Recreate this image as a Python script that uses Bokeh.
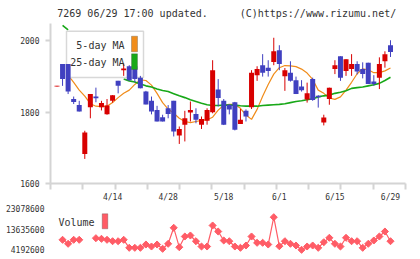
import math
from bokeh.plotting import figure
from bokeh.models import Range1d, FixedTicker, Label, BoxAnnotation, ColumnDataSource
from bokeh.core.properties import value
from bokeh.layouts import column
from bokeh.embed import file_html
from bokeh.resources import INLINE

# ---------------- data ----------------
opens = [1872, 1935, 1935, 1837, 1820, 1683, 1814, 1844, 1814, 1794, 1832, 1888, 1918, 1929, 1929,
         1897, 1858, 1832, 1806, 1786, 1811, 1832, 1735, 1765, 1799, 1795, 1765, 1776, 1800, 1864,
         1832, 1821, 1828, 1767, 1804, 1814, 1904, 1932, 1925, 1941, 1974, 1901, 1911, 1890, 1872,
         1836, 1893, 1846, 1771, 1837, 1921, 1957, 1916, 1921, 1935, 1921, 1939, 1886, 1897, 1943,
         1988]
closes = [1874, 1893, 1858, 1829, 1802, 1743, 1851, 1839, 1826, 1819, 1848, 1874, 1923, 1890, 1893,
          1867, 1822, 1802, 1774, 1774, 1795, 1746, 1753, 1783, 1806, 1779, 1781, 1806, 1918, 1840,
          1765, 1808, 1751, 1779, 1788, 1911, 1921, 1911, 1916, 1971, 1935, 1918, 1888, 1851, 1862,
          1853, 1834, 1842, 1785, 1869, 1932, 1897, 1949, 1935, 1914, 1907, 1879, 1879, 1935, 1963,
          1969]
highs = [1874, 1935, 1935, 1844, 1832, 1748, 1851, 1869, 1832, 1837, 1848, 1888, 1937, 1932, 1929,
         1902, 1860, 1844, 1818, 1793, 1820, 1832, 1760, 1804, 1830, 1811, 1788, 1811, 1946, 1893,
         1837, 1822, 1829, 1809, 1808, 1918, 1929, 1963, 1946, 2009, 1988, 1924, 1943, 1900, 1890,
         1883, 1897, 1848, 1793, 1869, 1946, 1957, 1949, 1963, 1943, 1940, 1939, 1904, 1954, 1971,
         2002]
lows = [1872, 1874, 1851, 1823, 1802, 1669, 1783, 1828, 1805, 1793, 1827, 1853, 1902, 1888, 1884,
        1867, 1822, 1794, 1774, 1774, 1783, 1732, 1711, 1718, 1774, 1769, 1753, 1765, 1797, 1816,
        1764, 1794, 1749, 1767, 1774, 1809, 1888, 1900, 1900, 1932, 1918, 1860, 1886, 1851, 1858,
        1827, 1832, 1813, 1763, 1821, 1907, 1888, 1902, 1902, 1906, 1895, 1879, 1874, 1865, 1925,
        1955]
ma5 = [None, None, 1904, 1884, 1862, 1845, 1824, 1817, 1816, 1817, 1827, 1841, 1853, 1862, 1878,
       1891, 1889, 1876, 1853, 1827, 1809, 1797, 1783, 1774, 1771, 1774, 1777, 1779, 1786, 1806,
       1820, 1822, 1822, 1811, 1792, 1780, 1808, 1845, 1878, 1907, 1925, 1931, 1930, 1928, 1921,
       1910, 1892, 1862, 1853, 1840, 1836, 1843, 1862, 1884, 1908, 1922, 1919, 1911, 1911, 1916,
       1924]
ma25 = [None, 2044, 2031, None, None, None, None, None, None, None, None, None, 1893, 1888, 1885,
        1879, 1874, 1871, 1865, 1861, 1858, 1852, 1846, 1841, 1835, 1830, 1825, 1821, 1819, 1819,
        1820, 1820, 1820, 1818, 1817, 1817, 1817, 1819, 1820, 1821, 1822, 1824, 1827, 1830, 1832,
        1835, 1838, 1843, 1846, 1848, 1853, 1856, 1860, 1867, 1869, 1871, 1874, 1877, 1881, 1889,
        1898]
volume = [None, 8800000, 6960000, 8800000, 8800000, None, None, 9540000, 9260000, 8800000,
          8150000, 8150000, 8800000, 5110000, 5110000, 5110000, 6630000, 5710000, 6630000, 4650000,
          6960000, 14330000, 5390000, 10320000, 10780000, 8150000, 5710000, 5710000, 15390000,
          12620000, 8480000, 8150000, 5710000, 5110000, 6170000, 10320000, 7420000, 7420000,
          6630000, 19210000, 5850000, 8150000, 6960000, 6170000, 4192600, 5710000, 6170000,
          5110000, 7690000, 9720000, 6960000, 5710000, 9720000, 8150000, 8150000, 5110000,
          6960000, 8480000, 10320000, 12620000, 8150000]
date_pos = [10, 20, 30, 40, 50, 60]
date_labels = ["4/14", "4/28", "5/18", "6/1", "6/15", "6/29"]
price_ticks = [1600, 1800, 2000]
volume_ticks = [4192600, 13635600, 23078600]
header_left = "7269 06/29 17:00 updated."
header_right = "(C)https://www.rizumu.net/"

# ---------------- styles ----------------
RED = "#d80000"
BLUE = "#4040c0"
ORANGE = "#f08c1a"
GREEN = "#18a818"
VOLC = "#ff5c66"
AXC = "#d4d4d4"
TXT = "#333333"
MONO = "DejaVu Sans Mono"

n = len(opens)
xs = list(range(n))
colors = [RED if c >= o else BLUE for o, c in zip(opens, closes)]
src = ColumnDataSource(dict(
    x=xs, top=[max(o, c) for o, c in zip(opens, closes)],
    bottom=[min(o, c) for o, c in zip(opens, closes)],
    high=highs, low=lows, color=colors))

x0, x1 = -1.17, 62.7
y0, y1 = 1600, 2049
x_range = Range1d(x0, x1)

# ---------------- header strip ----------------
h = figure(width=420, height=23, x_range=Range1d(0, 420), y_range=Range1d(0, 23),
           output_backend="svg", toolbar_location=None, x_axis_location=None, y_axis_location=None,
           min_border_left=0, min_border_right=0, min_border_top=0, min_border_bottom=0)
h.outline_line_color = None
h.xgrid.visible = False
h.ygrid.visible = False
h.text(x=[8], y=[10], text=[header_left], text_font=value(MONO), text_font_size="10px",
       text_color=TXT, text_baseline="middle", text_align="left")
h.text(x=[409], y=[10], text=[header_right], text_font=value(MONO), text_font_size="10px",
       text_color=TXT, text_baseline="middle", text_align="right")

# ---------------- main panel ----------------
p = figure(width=420, height=181, x_range=x_range, y_range=Range1d(y0, y1),
           output_backend="svg", toolbar_location=None,
           min_border_left=50, min_border_right=15, min_border_top=0, min_border_bottom=20)
p.outline_line_color = None
p.xgrid.visible = False
p.ygrid.visible = False
p.background_fill_color = "white"

# moving averages (drawn first: they pass under the legend box)
p.line(xs, [float("nan") if v is None else v for v in ma5], color=ORANGE, line_width=1.2)
p.line(xs, [float("nan") if v is None else v for v in ma25], color=GREEN, line_width=1.6)

# legend box (pixel placement converted to the panel's coordinates)
FW, FH = 355.0, 161.0
def sx(px):
    return x0 + (px - 50) / FW * (x1 - x0)
def sy(py):
    return y0 + (184 - py) / FH * (y1 - y0)
p.quad(left=[sx(66)], right=[sx(143)], top=[sy(30.7)], bottom=[sy(77.3)],
       fill_color="white", line_color="#d8d8d8", line_width=1.5)

# candles
p.segment(x0="x", y0="low", x1="x", y1="high", source=src, color="color", line_width=1)
p.vbar(x="x", top="top", bottom="bottom", width=0.9, source=src, fill_color="color", line_color=None)

# legend texts / swatches
p.add_layout(Label(x=74, y=138, x_units="screen", y_units="screen", text="5-day MA",
                   text_font=MONO, text_font_size="10px", text_color=TXT,
                   text_align="right", text_baseline="middle"))
p.add_layout(Label(x=74, y=121.3, x_units="screen", y_units="screen", text="25-day MA",
                   text_font=MONO, text_font_size="10px", text_color=TXT,
                   text_align="right", text_baseline="middle"))
p.add_layout(BoxAnnotation(left=81, right=87, top=147.3, bottom=131.7,
                           left_units="screen", right_units="screen", top_units="screen", bottom_units="screen",
                           fill_color=ORANGE, fill_alpha=1.0, line_color="#444444", line_width=1))
p.add_layout(BoxAnnotation(left=81, right=87, top=129.7, bottom=114,
                           left_units="screen", right_units="screen", top_units="screen", bottom_units="screen",
                           fill_color=GREEN, fill_alpha=1.0, line_color="#444444", line_width=1))

# axes
minor = [x0 + k * (x1 - x0) / 11 for k in range(12)]
p.xaxis.ticker = FixedTicker(ticks=date_pos, minor_ticks=minor)
p.xaxis.major_label_overrides = {k: v for k, v in zip(date_pos, date_labels)}
p.xaxis.axis_line_color = AXC
p.xaxis.axis_line_width = 2
p.xaxis.major_tick_line_color = None
p.xaxis.major_tick_out = 0
p.xaxis.major_tick_in = 0
p.xaxis.minor_tick_line_color = AXC
p.xaxis.minor_tick_line_width = 2
p.xaxis.minor_tick_out = 6
p.xaxis.minor_tick_in = 0
p.xaxis.major_label_standoff = 3
p.xaxis.major_label_text_font = MONO
p.xaxis.major_label_text_font_size = "8px"
p.xaxis.major_label_text_color = TXT

p.yaxis.ticker = FixedTicker(ticks=price_ticks, minor_ticks=[])
p.yaxis.axis_line_color = AXC
p.yaxis.axis_line_width = 2
p.yaxis.major_tick_line_color = AXC
p.yaxis.major_tick_line_width = 2
p.yaxis.major_tick_out = 5
p.yaxis.major_tick_in = 0
p.yaxis.minor_tick_line_color = None
p.yaxis.major_label_standoff = 6
p.yaxis.major_label_text_font = MONO
p.yaxis.major_label_text_font_size = "8px"
p.yaxis.major_label_text_color = TXT

# ---------------- volume panel ----------------
px_per = (volume_ticks[2] - volume_ticks[0]) / 41.0
v_start = volume_ticks[0] - 5.7 * px_per
v_end = v_start + 51 * px_per

q = figure(width=420, height=55, x_range=x_range, y_range=Range1d(v_start, v_end),
           output_backend="svg", toolbar_location=None, x_axis_location=None,
           min_border_left=50, min_border_right=15, min_border_top=0, min_border_bottom=4)
q.outline_line_color = None
q.xgrid.visible = False
q.ygrid.visible = False
vv = [float("nan") if v is None else v for v in volume]
q.line(xs, vv, color=VOLC, line_width=1.2)
q.scatter(xs, vv, marker="square", angle=math.pi / 4, size=5, fill_color=VOLC, line_color=VOLC)

q.yaxis.ticker = FixedTicker(ticks=volume_ticks, minor_ticks=[])
q.yaxis.major_label_overrides = {v: str(v) for v in volume_ticks}
q.yaxis.axis_line_color = None
q.yaxis.major_tick_line_color = None
q.yaxis.minor_tick_line_color = None
q.yaxis.major_tick_out = 0
q.yaxis.major_label_standoff = 6
q.yaxis.major_label_text_font = MONO
q.yaxis.major_label_text_font_size = "8px"
q.yaxis.major_label_text_color = TXT

q.add_layout(Label(x=8, y=32.7, x_units="screen", y_units="screen", text="Volume",
                   text_font=MONO, text_font_size="10px", text_color=TXT, text_baseline="middle"))
q.add_layout(BoxAnnotation(left=51.7, right=57.3, top=41.7, bottom=26.7,
                           left_units="screen", right_units="screen", top_units="screen", bottom_units="screen",
                           fill_color=VOLC, fill_alpha=1.0, line_color="#444444", line_width=1))

layout = column(h, p, q, spacing=0)
open("out.html", "w").write(file_html(layout, INLINE))
